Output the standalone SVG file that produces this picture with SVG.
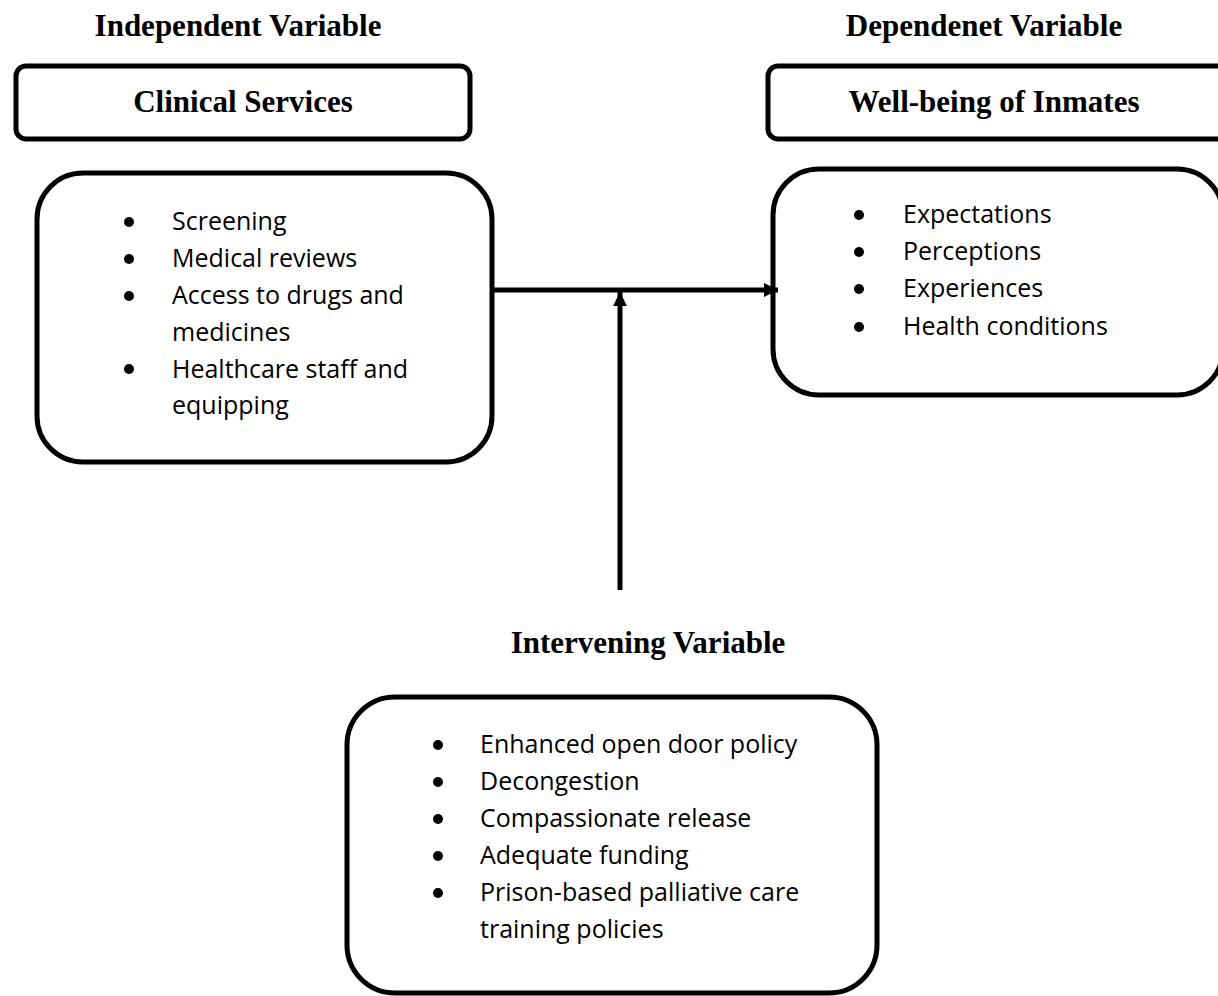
<svg xmlns="http://www.w3.org/2000/svg" width="1218" height="996" viewBox="0 0 1218 996">
<style>
.box{fill:#fff;stroke:#000;stroke-width:5}
.hd{font-family:"Liberation Serif","Times New Roman",serif;font-weight:bold;font-size:31px;fill:#000}
.tx{font-family:"Open Sans","Liberation Sans",sans-serif;font-size:25px;fill:#000}
.bl{fill:#000}
.ln{stroke:#000;stroke-width:5;fill:none}
</style>
<defs>
<marker id="ah" viewBox="0 0 10 10" refX="10" refY="5" markerWidth="15" markerHeight="14" markerUnits="userSpaceOnUse" orient="auto">
<path d="M0,0 L10,5 L0,10 z" fill="#000"/>
</marker>
</defs>
<rect width="1218" height="996" fill="#fff"/>

<g id="labels">
<text class="hd" x="238" y="36" text-anchor="middle">Independent Variable</text>
<text class="hd" x="984" y="36" text-anchor="middle">Dependenet Variable</text>
<text class="hd" x="648" y="653" text-anchor="middle">Intervening Variable</text>
</g>

<g id="clinical-services">
<rect class="box" x="16" y="66" width="454" height="73" rx="10"/>
<text class="hd" x="243" y="112" text-anchor="middle">Clinical Services</text>
</g>

<g id="wellbeing">
<rect class="box" x="768" y="66" width="460" height="73" rx="10"/>
<text class="hd" x="994" y="112" text-anchor="middle">Well-being of Inmates</text>
</g>

<g id="independent-list">
<rect class="box" x="37" y="173" width="455" height="289" rx="46"/>
<circle class="bl" cx="129" cy="222" r="5"/>
<circle class="bl" cx="129" cy="259" r="5"/>
<circle class="bl" cx="129" cy="296" r="5"/>
<circle class="bl" cx="129" cy="369" r="5"/>
<text class="tx" x="172" y="230">Screening</text>
<text class="tx" x="172" y="267">Medical reviews</text>
<text class="tx" x="172" y="304">Access to drugs and</text>
<text class="tx" x="172" y="341">medicines</text>
<text class="tx" x="172" y="378">Healthcare staff and</text>
<text class="tx" x="172" y="414">equipping</text>
</g>

<g id="dependent-list">
<rect class="box" x="773" y="169" width="450" height="226" rx="46"/>
<circle class="bl" cx="859" cy="215" r="5"/>
<circle class="bl" cx="859" cy="252" r="5"/>
<circle class="bl" cx="859" cy="289" r="5"/>
<circle class="bl" cx="859" cy="327" r="5"/>
<text class="tx" x="903" y="223">Expectations</text>
<text class="tx" x="903" y="260">Perceptions</text>
<text class="tx" x="903" y="297">Experiences</text>
<text class="tx" x="903" y="335">Health conditions</text>
</g>

<g id="intervening-list">
<rect class="box" x="347" y="697" width="530" height="296" rx="48"/>
<circle class="bl" cx="438" cy="745" r="5"/>
<circle class="bl" cx="438" cy="782" r="5"/>
<circle class="bl" cx="438" cy="819" r="5"/>
<circle class="bl" cx="438" cy="856" r="5"/>
<circle class="bl" cx="438" cy="893" r="5"/>
<text class="tx" x="480" y="753">Enhanced open door policy</text>
<text class="tx" x="480" y="790">Decongestion</text>
<text class="tx" x="480" y="827">Compassionate release</text>
<text class="tx" x="480" y="864">Adequate funding</text>
<text class="tx" x="480" y="901">Prison-based palliative care</text>
<text class="tx" x="480" y="938">training policies</text>
</g>

<g id="connectors">
<line class="ln" x1="492" y1="290" x2="778" y2="290" marker-end="url(#ah)"/>
<line class="ln" x1="620" y1="590" x2="620" y2="292" marker-end="url(#ah)"/>
</g>
</svg>
